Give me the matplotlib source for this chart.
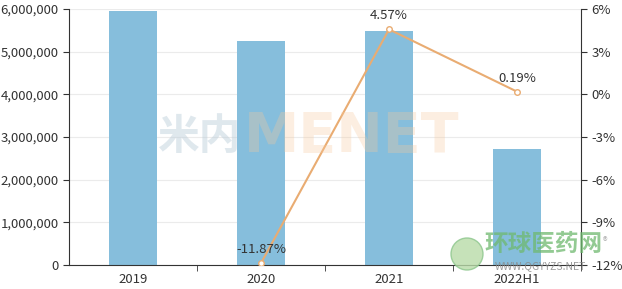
import matplotlib
matplotlib.use("Agg")
from matplotlib import pyplot as plt
from matplotlib.patches import Ellipse
import numpy as np

plt.rcParams['font.family'] = ['Noto Sans CJK SC', 'DejaVu Sans']

years = ["2019", "2020", "2021", "2022H1"]
sales = [5950000, 5250000, 5480000, 2720000]
growth = [np.nan, -11.87, 4.57, 0.19]
growth_labels = ["", "-11.87%", "4.57%", "0.19%"]

bar_color = "#86BEDC"
line_color = "#E9AC72"
text_color = "#333333"

fig = plt.figure(figsize=(6.22, 2.89), dpi=100)
ax = fig.add_axes([69 / 622, 24 / 289, 512 / 622, 256 / 289])
x = np.arange(len(years))

ax.bar(x, sales, width=0.38, color=bar_color, zorder=2)
ax.set_xlim(-0.5, 3.5)
ax.set_ylim(0, 6000000)
ax.set_yticks(np.arange(0, 6000001, 1000000))
ax.set_yticklabels([f"{v:,}" for v in range(0, 6000001, 1000000)])
ax.grid(axis="y", color="#EBEBEB", linewidth=0.8, zorder=0)
ax.set_axisbelow(True)
ax.set_xticks(x)
ax.set_xticklabels(years)
ax.set_xticks([0.5, 1.5, 2.5, 3.5], minor=True)
ax.tick_params(axis="x", which="major", length=0, pad=6, labelsize=9.5, colors=text_color)
ax.tick_params(axis="x", which="minor", length=4, color=text_color)
ax.tick_params(axis="y", length=4, labelsize=9.5, colors=text_color)
ax.spines["top"].set_visible(False)
ax.spines["right"].set_visible(False)
for s in ["left", "bottom"]:
    ax.spines[s].set_color(text_color)

ax2 = ax.twinx()
ax2.plot(x, growth, color=line_color, linewidth=1.5, marker="o", markersize=4,
         markerfacecolor="white", markeredgecolor=line_color, zorder=3)
for xi, g, lab in zip(x, growth, growth_labels):
    if lab:
        ax2.annotate(lab, (xi, g), xytext=(0, 5), textcoords="offset points",
                     ha="center", va="bottom", fontsize=9.5, color=text_color)
ax2.set_ylim(-12, 6)
ax2.set_yticks(np.arange(-12, 7, 3))
ax2.set_yticklabels([f"{v}%" for v in range(-12, 7, 3)])
ax2.tick_params(axis="y", length=4, labelsize=9.5, colors=text_color)
ax2.spines["top"].set_visible(False)
ax2.spines["left"].set_visible(False)
ax2.spines["bottom"].set_visible(False)
ax2.spines["right"].set_color(text_color)

# watermark on top, semi-transparent
fig.text(200 / 622, 1 - 137 / 289, "米内", fontsize=30, color="#B9CCD9", ha="center",
         va="center", fontweight="bold", alpha=0.45, zorder=10)
fig.text(352 / 622, 1 - 137 / 289, "MENET", fontsize=40, color="#F7C89C", ha="center",
         va="center", fontweight="bold", alpha=0.3, zorder=10, family="DejaVu Sans")

# logo
globe = Ellipse((467 / 622, 1 - 254 / 289), 32 / 622, 32 / 289, transform=fig.transFigure,
                facecolor="#B8DBA8", edgecolor="#8CC68C", alpha=0.8, zorder=10)
fig.patches.append(globe)
fig.text(544 / 622, 1 - 244 / 289, "环球医药网", fontsize=17, color="#6FB96F", ha="center",
         va="center", fontweight="bold", alpha=0.75, zorder=10)
fig.text(540 / 622, 1 - 266 / 289, "WWW.QGYYZS.NET", fontsize=7.5, color="#8A8A8A",
         ha="center", va="center", alpha=0.85, zorder=10)
fig.text(605 / 622, 1 - 242 / 289, "®", fontsize=7, color="#B0B0B0", ha="center",
         va="center", zorder=10)

fig.savefig("out.png", dpi=100)
